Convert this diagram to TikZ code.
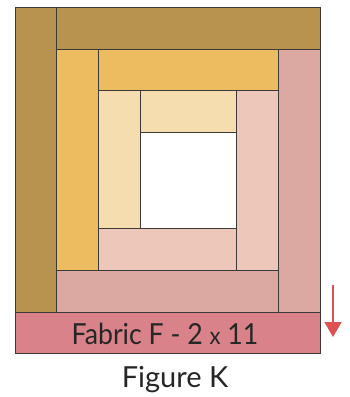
\documentclass[tikz,border=0pt]{standalone}
\usepackage{fontspec}
\setmainfont{Lato}
\usetikzlibrary{arrows.meta}
\definecolor{fabA}{HTML}{B8924F}
\definecolor{fabB}{HTML}{EDBC60}
\definecolor{fabC}{HTML}{F5DDB0}
\definecolor{fabD}{HTML}{EEC7BB}
\definecolor{fabE}{HTML}{DBA9A2}
\definecolor{fabF}{HTML}{D98289}
\definecolor{seam}{HTML}{3C3A38}
\definecolor{arrowred}{HTML}{E05050}
\tikzset{
  strip/.style={draw=seam, line width=1pt},
  label/.style={font=\fontsize{29}{30}\selectfont, text=black!85, inner sep=0pt, anchor=base},
}
\begin{document}
\begin{tikzpicture}[x=1pt,y=-1pt]
  \useasboundingbox (0,0) rectangle (349,397);
  % round 1 (centre)
  \draw[strip,fill=white] (140,132) rectangle (236,228);
  \draw[strip,fill=fabC] (140,90) rectangle (236,132);
  \draw[strip,fill=fabC] (98,90) rectangle (140,228);
  \draw[strip,fill=fabD] (98,228) rectangle (236,270);
  \draw[strip,fill=fabD] (236,90) rectangle (278,270);
  % round 2
  \draw[strip,fill=fabB] (98,49) rectangle (278,90);
  \draw[strip,fill=fabB] (56,49) rectangle (98,270);
  \draw[strip,fill=fabE] (56,270) rectangle (278,312);
  \draw[strip,fill=fabE] (278,49) rectangle (320,312);
  % round 3
  \draw[strip,fill=fabA] (56,7) rectangle (320,49);
  \draw[strip,fill=fabA] (15,7) rectangle (56,312);
  \draw[strip,fill=fabF] (15,312) rectangle (320,353);
  \node[label] (fabric) at (165,344) {\scalebox{0.92}[1]{Fabric F - 2 {\fontsize{24}{26}\selectfont x} 11}};
  \node[label] (caption) at (175,387) {Figure K};
  % direction of sewing
  \coordinate (arrowtop) at (333,285);
  \coordinate (arrowend) at (333,337);
  \draw[arrowred, line width=1.5pt, -{Triangle[width=17pt,length=15pt]}] (arrowtop) -- (arrowend);
\end{tikzpicture}
\end{document}
